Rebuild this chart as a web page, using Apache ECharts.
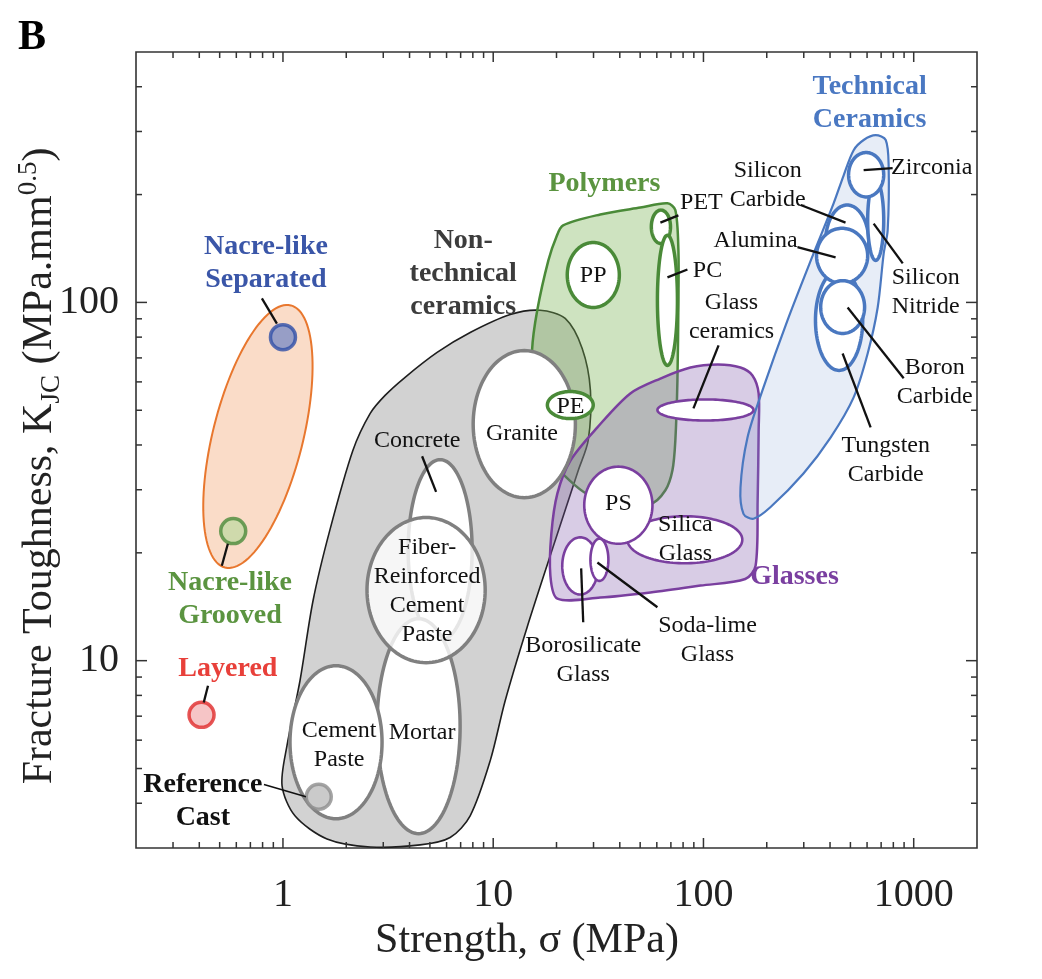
<!DOCTYPE html>
<html><head><meta charset="utf-8">
<script src="https://cdn.jsdelivr.net/npm/echarts@6/dist/echarts.min.js"></script>
<style>html,body{margin:0;padding:0;background:#fff}#c{width:1042px;height:979px}</style>
</head><body><div id="c"></div>
<script>
const FONT = "'Liberation Serif','Times New Roman',serif";

// ---------- axes ----------
const xRange = [0.2, 2000];          // Strength (MPa)
const yRange = [3, 500];             // Fracture toughness (MPa.mm^0.5)
const xTickLabels = [1, 10, 100, 1000];
const yTickLabels = [10, 100];

// ---------- envelopes: [strength, toughness] ----------
const nonTechnicalEnvelope = [[16.7,95.1],[22.0,90.2],[26.5,74.4],[29.0,56.8],[28.3,41.2],[25.4,34.0],[19.7,21.6],[14.5,12.4],[11.4,7.73],[9.68,5.26],[7.77,3.69],[6.24,3.21],[4.49,3.06],[2.6,3.02],[1.62,3.18],[1.14,3.69],[0.99,4.48],[1.045,5.79],[1.205,8.79],[1.39,14.7],[1.67,23.1],[2.15,38.6],[2.6,49.0],[3.06,55.0],[3.81,61.8],[5.41,72.5],[7.77,82.4],[12.05,92.5]];
const polymerEnvelope = [[21.5,164],[32.3,176],[50.1,184],[67.4,189],[73.5,181],[76,140],[76,101],[75.2,60.6],[73.5,41.2],[71.2,34],[65.9,29.9],[55.9,27.4],[40.2,28],[29,28.9],[24.6,30.8],[19.7,35.1],[16.7,41.2],[15.5,53.2],[15.3,73.4],[16.2,95.1],[18.3,131],[19.95,152]];
const glassEnvelope = [[20.2,14.9],[32.3,15.0],[55.9,15.5],[96.8,16.2],[158,16.9],[177,18.4],[181,28],[183,43.9],[183,55.7],[171,62.5],[150,65.8],[117,67.1],[86.7,65.8],[62.4,61.3],[44.9,55.7],[31.3,44.8],[23.3,36.2],[20.2,29.3],[18.9,22.6],[18.7,17.3]];
const technicalEnvelope = [[578,284],[659,293],[736,284],[760,241],[752,159],[720,137],[674,96.8],[604,72],[518,54.3],[403,42],[299,33.3],[208,26.8],[173,24.9],[155,25.7],[150,30.4],[162,42],[193,57.9],[251,89.1],[334,137],[416,189],[464,226],[518,266]];
// Nacre-like envelope: ends of major axis [strength, toughness] and minor/major ratio
const nacreEnvelopeEnds = [[0.53, 18.2], [1.09, 98.1]];
const nacreEnvelopeRatio = 0.333;

// ---------- material ranges: [name, strengthMin, strengthMax, toughMin, toughMax] ----------
const nonTechnicalMaterials = [
  ['Concrete', 3.94, 7.94, 11.4, 36.4],
  ['Mortar', 2.80, 6.96, 3.29, 13.1],
  ['Cement Paste', 1.08, 2.96, 3.62, 9.68],
  ['Fiber-Reinforced Cement Paste', 2.51, 9.16, 9.87, 25.1],
  ['Granite', 8.03, 24.6, 28.5, 73.4]
];
const polymerMaterials = [
  ['PP', 22.5, 39.8, 96.8, 147],
  ['PET', 56.5, 69.7, 146, 181],
  ['PC', 60.4, 75.2, 66.7, 154],
  ['PE', 18.1, 29.9, 47.4, 56.4]
];
const glassMaterials = [
  ['Glass ceramics', 60.4, 173, 46.8, 53.6],
  ['Silica Glass', 43.5, 153, 18.7, 25.3],
  ['PS', 27.1, 57.2, 21.2, 34.8],
  ['Borosilicate Glass', 21.3, 31.6, 15.3, 22.1],
  ['Soda-lime Glass', 29.0, 35.3, 16.7, 21.9]
];
const technicalMaterials = [
  ['Tungsten Carbide', 341, 572, 64.6, 123],
  ['Silicon Carbide', 381, 611, 117, 187],
  ['Silicon Nitride', 604, 720, 131, 219],
  ['Alumina', 345, 604, 113, 161],
  ['Boron Carbide', 361, 584, 81.9, 115],
  ['Zirconia', 490, 720, 197, 262]
];
// ---------- measured points: [name, strength, toughness] ----------
const nacrePoints = [
  ['Nacre-like Separated', 1.0, 80],
  ['Nacre-like Grooved', 0.58, 23],
  ['Layered', 0.41, 7.06],
  ['Reference Cast', 1.48, 4.17]
];

// ---------- annotations: [text, strength, toughness, kind] ----------
const labels = [
  ['Nacre-like\nSeparated', 0.83, 128.5, 'blue'],
  ['Nacre-like\nGrooved', 0.56, 14.8, 'green'],
  ['Layered', 0.547, 9.5, 'red'],
  ['Reference\nCast', 0.416, 4.06, 'black'],
  ['Non-\ntechnical\nceramics', 7.2, 120.5, 'grey'],
  ['Concrete', 4.35, 41.2, 'item'],
  ['Fiber-\nReinforced\nCement\nPaste', 4.85, 15.6, 'item'],
  ['Granite', 13.7, 43.0, 'item'],
  ['Cement\nPaste', 1.85, 5.80, 'item'],
  ['Mortar', 4.59, 6.29, 'item'],
  ['PP', 29.9, 119, 'item'],
  ['PE', 23.3, 51.2, 'item'],
  ['PET', 97.8, 190, 'item'],
  ['PC', 104.5, 123, 'item'],
  ['Polymers', 33.8, 215, 'green'],
  ['Glass\nceramics', 136, 90.8, 'item'],
  ['Glasses', 271, 17.1, 'purple'],
  ['PS', 39.4, 27.4, 'item'],
  ['Silica\nGlass', 82.1, 21.8, 'item'],
  ['Borosilicate\nGlass', 26.8, 10.0, 'item'],
  ['Soda-lime\nGlass', 104.5, 11.4, 'item'],
  ['Technical\nCeramics', 617, 359, 'tech'],
  ['Zirconia', 1218, 238, 'item'],
  ['Silicon\nCarbide', 202, 212, 'item'],
  ['Alumina', 177, 149, 'item'],
  ['Silicon\nNitride', 1140, 106.7, 'item'],
  ['Boron\nCarbide', 1259, 59.8, 'item'],
  ['Tungsten\nCarbide', 736, 36.2, 'item']
];
// leader lines: [strength1, tough1, strength2, tough2]
const leaders = [
  [0.794, 102.6, 0.936, 87.3],
  [0.547, 21.2, 0.512, 18.4],
  [0.44, 8.51, 0.42, 7.64],
  [0.812, 4.51, 1.287, 4.17],
  [4.59, 37.2, 5.35, 29.6],
  [62.4, 167, 76.0, 175],
  [67.4, 117.5, 83.9, 123.6],
  [118, 75.9, 89.6, 50.6],
  [26.2, 18.1, 26.8, 12.8],
  [31.3, 18.8, 60.4, 14.1],
  [578, 234, 794, 237],
  [290, 187, 474, 167],
  [280, 142.6, 425, 133.6],
  [645, 166, 887, 128.5],
  [485, 96.8, 896, 61.4],
  [459, 72.0, 624, 44.8]
];

// ---------- styles ----------
const labelStyles = {
  item:   {fill: '#111', size: 24, weight: 'normal', lh: 29},
  blue:   {fill: '#3a56a8', size: 28, weight: 'bold', lh: 33},
  green:  {fill: '#5b9440', size: 28, weight: 'bold', lh: 33},
  red:    {fill: '#e8403a', size: 28, weight: 'bold', lh: 33},
  black:  {fill: '#111', size: 28, weight: 'bold', lh: 33},
  grey:   {fill: '#3c3c3c', size: 28, weight: 'bold', lh: 33},
  purple: {fill: '#7a3fa0', size: 28, weight: 'bold', lh: 33},
  tech:   {fill: '#4a78c2', size: 28, weight: 'bold', lh: 33}
};
const markerStyles = [
  {color: '#7e8ec6', borderColor: '#2f4fa8', borderWidth: 3.5},
  {color: '#c4d9a5', borderColor: '#4b8b3b', borderWidth: 3.5},
  {color: '#f4b6b8', borderColor: '#e02b2b', borderWidth: 3.5},
  {color: '#bdbdbd', borderColor: '#8d8d8d', borderWidth: 3.5}
];
const translucentFill = {'Fiber-Reinforced Cement Paste': 'rgba(255,255,255,0.8)'};

function ellipsePts(cx, cy, a, b, phi) {
  const pts = [], c = Math.cos(phi), s = Math.sin(phi), N = 120;
  for (let i = 0; i < N; i++) {
    const t = i / N * 2 * Math.PI, ex = a * Math.cos(t), ey = b * Math.sin(t);
    pts.push([cx + ex * c - ey * s, cy + ex * s + ey * c]);
  }
  return pts;
}

function materialSeries(list, stroke, lw, z) {
  return {
    type: 'custom', coordinateSystem: 'cartesian2d', z, silent: true,
    data: list.map(d => [d[1], d[2], d[3], d[4]]),
    encode: {x: [0, 1], y: [2, 3]},
    renderItem: (params, api) => {
      const p0 = api.coord([api.value(0), api.value(2)]);
      const p1 = api.coord([api.value(1), api.value(3)]);
      const cx = (p0[0] + p1[0]) / 2, cy = (p0[1] + p1[1]) / 2;
      const rx = Math.abs(p1[0] - p0[0]) / 2, ry = Math.abs(p1[1] - p0[1]) / 2;
      const name = list[params.dataIndex][0];
      return {type: 'polygon', shape: {points: ellipsePts(cx, cy, rx, ry, 0)},
        style: {fill: translucentFill[name] || '#fff', stroke, lineWidth: lw}};
    }
  };
}

function envelopeSeries(pts, stroke, lw, fill, z) {
  return {
    type: 'custom', coordinateSystem: 'cartesian2d', z, silent: true,
    data: [pts[0]],
    renderItem: (params, api) => ({
      type: 'polygon',
      shape: {points: pts.map(p => api.coord(p)), smooth: 0.3},
      style: {fill, stroke, lineWidth: lw}
    })
  };
}

// ticks generated at 1..9 x 10^n within the ranges
const xTicks = [], yTicks = [];
for (let n = -1; n <= 3; n++) for (let k = 1; k <= 9; k++) {
  const v = k * Math.pow(10, n);
  if (v > xRange[0] * 1.001 && v < xRange[1] * 0.999) xTicks.push([v, k === 1 ? 1 : 0]);
}
for (let n = 0; n <= 2; n++) for (let k = 1; k <= 9; k++) {
  const v = k * Math.pow(10, n);
  if (v > yRange[0] * 1.001 && v < yRange[1] * 0.999) yTicks.push([v, k === 1 ? 1 : 0]);
}

function isPow10(v) { const l = Math.log10(v); return Math.abs(l - Math.round(l)) < 1e-6; }

const chart = echarts.init(document.getElementById('c'));
chart.setOption({
  animation: false,
  backgroundColor: '#fff',
  grid: {left: 136, right: 65, top: 52, bottom: 131, show: true, borderColor: '#333', borderWidth: 1.6, backgroundColor: 'transparent'},
  xAxis: {
    type: 'log', logBase: 10, min: xRange[0], max: xRange[1],
    axisLine: {show: false}, axisTick: {show: false}, splitLine: {show: false}, minorTick: {show: false},
    axisLabel: {margin: 27, fontSize: 40, fontFamily: FONT, color: '#222',
      formatter: v => (isPow10(v) && xTickLabels.indexOf(Math.round(v)) >= 0) ? String(Math.round(v)) : ''}
  },
  yAxis: {
    type: 'log', logBase: 10, min: yRange[0], max: yRange[1],
    axisLine: {show: false}, axisTick: {show: false}, splitLine: {show: false}, minorTick: {show: false},
    axisLabel: {margin: 17, fontSize: 40, fontFamily: FONT, color: '#222',
      formatter: v => (isPow10(v) && yTickLabels.indexOf(Math.round(v)) >= 0) ? String(Math.round(v)) : ''}
  },
  graphic: [
    {type: 'text', x: 32, y: 38, style: {text: 'B', fontSize: 42, fontWeight: 'bold', fontFamily: FONT, fill: '#000', align: 'center', verticalAlign: 'middle'}},
    {type: 'text', x: 527, y: 941, style: {text: 'Strength, σ (MPa)', fontSize: 42, fontFamily: FONT, fill: '#222', align: 'center', verticalAlign: 'middle'}},
    {type: 'text', x: 40, y: 466, rotation: Math.PI / 2,
      style: {
        text: '{a|Fracture Toughness, K}{b|JC}{a| (MPa.mm}{c|0.5}{a|)}',
        align: 'center', verticalAlign: 'middle', fill: '#222',
        rich: {
          a: {fontSize: 42, fontFamily: FONT, lineHeight: 50, fill: '#222'},
          b: {fontSize: 27, fontFamily: FONT, lineHeight: 27, verticalAlign: 'bottom', fill: '#222'},
          c: {fontSize: 27, fontFamily: FONT, lineHeight: 27, verticalAlign: 'top', fill: '#222'}
        }
      }}
  ],
  series: [
    // Nacre-like envelope (tilted ellipse)
    {
      type: 'custom', coordinateSystem: 'cartesian2d', z: 1, silent: true,
      data: [nacreEnvelopeEnds[0]],
      renderItem: (params, api) => {
        const a0 = api.coord(nacreEnvelopeEnds[0]), a1 = api.coord(nacreEnvelopeEnds[1]);
        const cx = (a0[0] + a1[0]) / 2, cy = (a0[1] + a1[1]) / 2;
        const dx = a1[0] - a0[0], dy = a1[1] - a0[1];
        const a = Math.hypot(dx, dy) / 2, phi = Math.atan2(dy, dx);
        return {type: 'polygon', shape: {points: ellipsePts(cx, cy, a, a * nacreEnvelopeRatio, phi)},
          style: {fill: '#fadcc8', stroke: '#e8772e', lineWidth: 2}};
      }
    },
    envelopeSeries(nonTechnicalEnvelope, '#1e1e1e', 1.6, '#d2d2d2', 2),
    envelopeSeries(polymerEnvelope, '#4a8a38', 2.5, 'rgba(118,178,80,0.36)', 3),
    envelopeSeries(glassEnvelope, '#7a3f9f', 2.5, 'rgba(125,85,170,0.30)', 4),
    envelopeSeries(technicalEnvelope, '#4a78c0', 2.2, 'rgba(120,155,210,0.18)', 5),
    materialSeries(nonTechnicalMaterials, '#808080', 3.5, 6),
    materialSeries(polymerMaterials, '#4a8a38', 3.5, 7),
    materialSeries(glassMaterials, '#7a3f9f', 2.6, 8),
    materialSeries(technicalMaterials, '#4a78c0', 3.5, 9),
    {
      type: 'scatter', z: 10, silent: true, symbol: 'circle', symbolSize: 25,
      data: nacrePoints.map((d, i) => ({name: d[0], value: [d[1], d[2]], itemStyle: markerStyles[i]}))
    },
    {
      type: 'custom', coordinateSystem: 'cartesian2d', z: 11, silent: true,
      data: leaders, encode: {x: [0, 2], y: [1, 3]},
      renderItem: (params, api) => {
        const p = api.coord([api.value(0), api.value(1)]), q = api.coord([api.value(2), api.value(3)]);
        return {type: 'line', shape: {x1: p[0], y1: p[1], x2: q[0], y2: q[1]},
          style: {stroke: '#111', lineWidth: params.dataIndex === 3 ? 1.5 : 2.3}};
      }
    },
    {
      type: 'custom', coordinateSystem: 'cartesian2d', z: 12, silent: true,
      data: labels.map(l => [l[1], l[2]]),
      renderItem: (params, api) => {
        const l = labels[params.dataIndex], st = labelStyles[l[3]];
        const p = api.coord([api.value(0), api.value(1)]);
        return {type: 'text', x: p[0], y: p[1], style: {
          text: l[0], fill: st.fill, fontSize: st.size, fontWeight: st.weight, fontFamily: FONT,
          lineHeight: st.lh, align: 'center', verticalAlign: 'middle'}};
      }
    },
    // x ticks (bottom & top, inward)
    {
      type: 'custom', coordinateSystem: 'cartesian2d', z: 13, silent: true,
      data: xTicks.map(t => [t[0], yRange[0] * 2]),
      renderItem: (params, api) => {
        const cs = params.coordSys, px = api.coord([api.value(0), api.value(1)])[0];
        const len = xTicks[params.dataIndex][1] ? 10 : 6;
        const st = {stroke: '#333', lineWidth: 1.5};
        return {type: 'group', children: [
          {type: 'line', shape: {x1: px, y1: cs.y + cs.height, x2: px, y2: cs.y + cs.height - len}, style: st},
          {type: 'line', shape: {x1: px, y1: cs.y, x2: px, y2: cs.y + len}, style: st}
        ]};
      }
    },
    // y ticks (left & right, inward)
    {
      type: 'custom', coordinateSystem: 'cartesian2d', z: 13, silent: true,
      data: yTicks.map(t => [xRange[0] * 2, t[0]]),
      renderItem: (params, api) => {
        const cs = params.coordSys, py = api.coord([api.value(0), api.value(1)])[1];
        const len = yTicks[params.dataIndex][1] ? 11 : 6;
        const st = {stroke: '#333', lineWidth: 1.5};
        return {type: 'group', children: [
          {type: 'line', shape: {x1: cs.x, y1: py, x2: cs.x + len, y2: py}, style: st},
          {type: 'line', shape: {x1: cs.x + cs.width, y1: py, x2: cs.x + cs.width - len, y2: py}, style: st}
        ]};
      }
    }
  ]
});
</script></body></html>
